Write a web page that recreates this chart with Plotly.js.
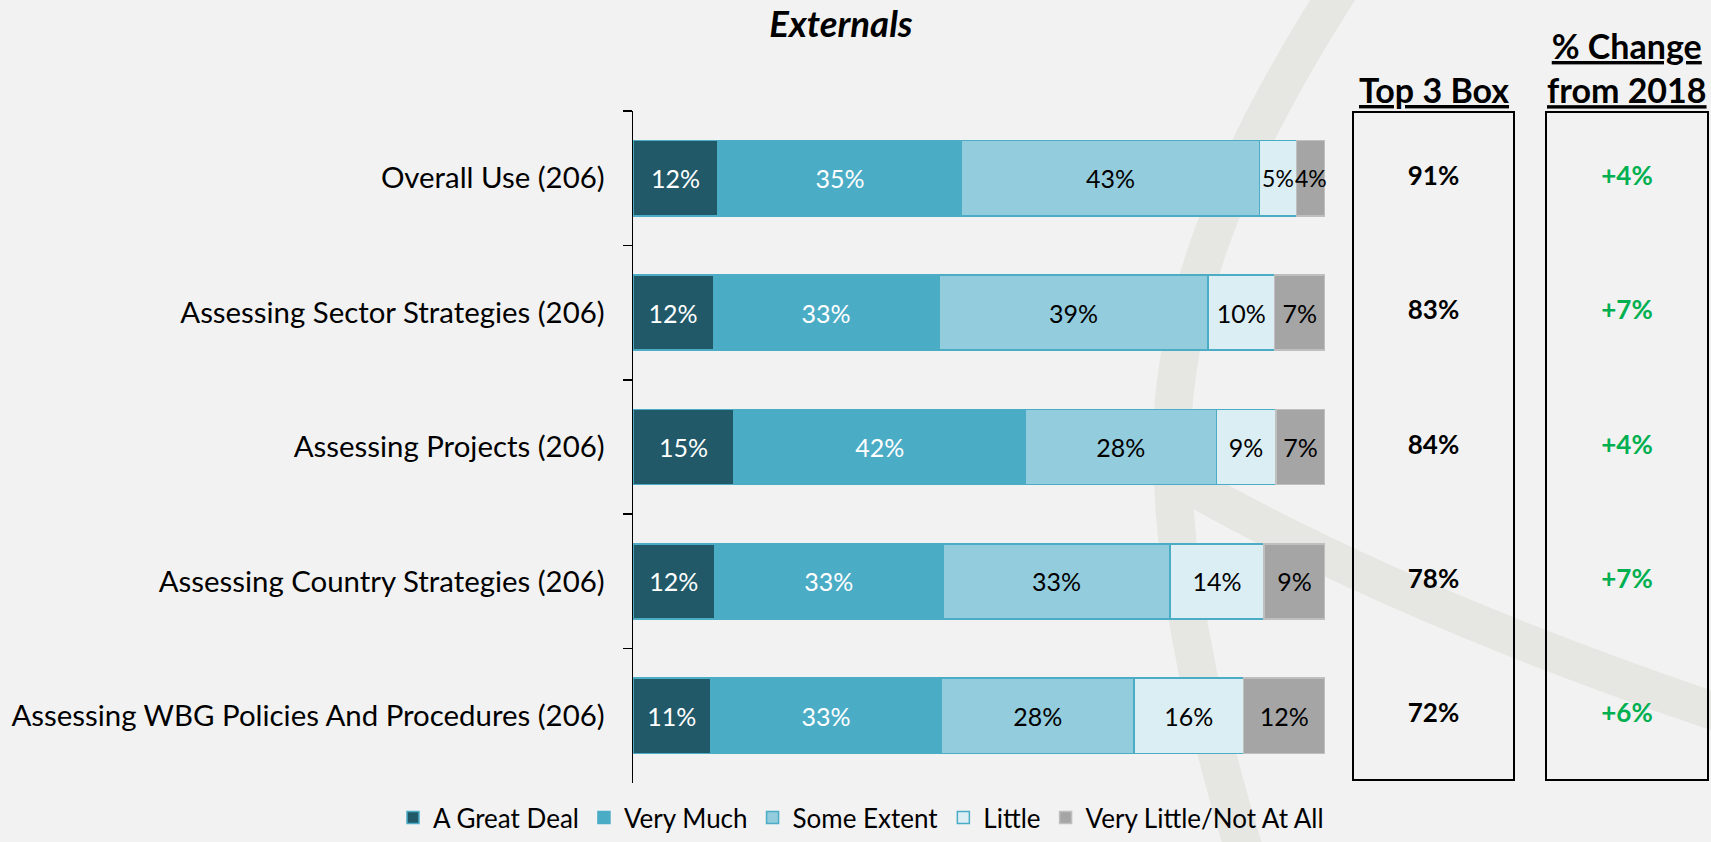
<!DOCTYPE html>
<html>
<head>
<meta charset="utf-8">
<script src="https://cdn.plot.ly/plotly-3.0.1.min.js"></script>
<style>
  html, body { margin: 0; padding: 0; background: #F2F2F2; overflow: hidden; }
  #chart { width: 1711px; height: 842px; }
</style>
</head>
<body>
<div id="chart"></div>
<script>
// ---- data ----
const categories = [
  'Overall Use (206)',
  'Assessing Sector Strategies (206)',
  'Assessing Projects (206)',
  'Assessing Country Strategies (206)',
  'Assessing WBG Policies And Procedures (206)'
];
const seriesNames = ['A Great Deal', 'Very Much', 'Some Extent', 'Little', 'Very Little/Not At All'];
const greatDeal  = [12.3, 11.6, 14.6, 11.8, 11.2];
const veryMuch   = [35.2, 32.6, 42.1, 33.0, 33.4];
const someExtent = [43.0, 38.9, 27.6, 32.8, 27.8];
const little     = [5.4, 9.6, 8.6, 13.6, 15.8];
const veryLittle = [4.1, 7.3, 7.1, 8.8, 11.8];
const top3Box    = [91, 83, 84, 78, 72];
const change2018 = [4, 7, 4, 7, 6];

// ---- styling ----
const W = 1711, H = 842;
const px = x => x / W;
const py = y => 1 - y / H;
const P = (x, y) => px(x).toFixed(5) + ',' + py(y).toFixed(5);
const FONT = 'Lato, "Open Sans", sans-serif';

const fills = ['#215968', '#4BACC6', '#93CDDD', '#DBEEF4', '#A5A5A5'];
const lines = ['#4BACC6', '#4BACC6', '#4BACC6', '#4BACC6', '#BFBFBF'];
const textCols = ['#FFFFFF', '#FFFFFF', '#000000', '#000000', '#000000'];
const seriesVals = [greatDeal, veryMuch, someExtent, little, veryLittle];

// labels in very narrow segments are set a touch smaller so neighbours don't collide
const labelSizes = seriesVals.map(vals => vals.map(v => v < 6 ? 23 : 25));

const traces = seriesVals.map((vals, i) => ({
  type: 'bar',
  orientation: 'h',
  name: seriesNames[i],
  x: vals,
  y: categories,
  marker: { color: fills[i], line: { color: lines[i], width: 1.5 } },
  texttemplate: '%{x:.0f}%',
  textposition: 'inside',
  insidetextanchor: 'middle',
  textangle: 0,
  constraintext: 'none',
  insidetextfont: { family: FONT, size: labelSizes[i], color: textCols[i] },
  cliponaxis: false,
  hoverinfo: 'skip'
}));

traces.push({
  type: 'scatter', mode: 'text',
  x: categories.map(() => 0.5), y: categories,
  xaxis: 'x2', yaxis: 'y',
  text: top3Box.map(v => '<b>' + v + '%</b>'),
  textfont: { family: FONT, size: 26, color: '#000000' },
  showlegend: false, hoverinfo: 'skip', cliponaxis: false
});
traces.push({
  type: 'scatter', mode: 'text',
  x: categories.map(() => 0.5), y: categories,
  xaxis: 'x3', yaxis: 'y',
  text: change2018.map(v => '<b>+' + v + '%</b>'),
  textfont: { family: FONT, size: 26, color: '#00B050' },
  showlegend: false, hoverinfo: 'skip', cliponaxis: false
});

const wm = '#E6E6E2';
const layout = {
  width: W, height: H,
  margin: { l: 0, r: 0, t: 0, b: 0, pad: 0 },
  paper_bgcolor: '#F2F2F2',
  plot_bgcolor: 'rgba(0,0,0,0)',
  barmode: 'stack',
  bargap: 0.44,
  font: { family: FONT, color: '#000000' },
  title: {
    text: '<b><i>Externals</i></b>',
    font: { family: FONT, size: 36.5, color: '#000000' },
    x: px(841), xanchor: 'center', xref: 'paper',
    y: py(24), yanchor: 'middle', yref: 'container'
  },
  xaxis: { domain: [px(633), px(1325)], range: [0, 100], visible: false, fixedrange: true },
  xaxis2: { domain: [px(1353), px(1514)], range: [0, 1], visible: false, anchor: 'y', fixedrange: true },
  xaxis3: { domain: [px(1546), px(1708)], range: [0, 1], visible: false, anchor: 'y', fixedrange: true },
  yaxis: {
    domain: [py(783), py(111)],
    type: 'category',
    autorange: 'reversed',
    showline: true, linecolor: '#000000', linewidth: 1.5,
    ticks: 'outside', ticklen: 9, tickwidth: 1.5, tickcolor: '#000000',
    tickson: 'boundaries',
    showgrid: false, zeroline: false,
    tickfont: { family: FONT, size: 29.4, color: '#000000' },
    ticklabelstandoff: 21,
    automargin: false, fixedrange: true
  },
  legend: {
    orientation: 'h',
    x: px(861), xanchor: 'center',
    y: py(817.5), yanchor: 'middle',
    font: { family: FONT, size: 26, color: '#000000' },
    bgcolor: 'rgba(0,0,0,0)',
    traceorder: 'normal'
  },
  shapes: [
    { type: 'path', xref: 'paper', yref: 'paper', layer: 'below',
      path: 'M ' + P(1352, -30) + ' C ' + P(1260, 110) + ' ' + P(1170, 280) + ' ' + P(1172, 450) +
            ' C ' + P(1174, 600) + ' ' + P(1210, 740) + ' ' + P(1250, 870),
      line: { color: wm, width: 38 } },
    { type: 'path', xref: 'paper', yref: 'paper', layer: 'below',
      path: 'M ' + P(1180, 480) + ' C ' + P(1320, 560) + ' ' + P(1500, 640) + ' ' + P(1740, 720),
      line: { color: wm, width: 38 } },
    { type: 'rect', xref: 'x2 domain', yref: 'paper', x0: 0, x1: 1, y0: py(780), y1: py(112),
      line: { color: '#000000', width: 2 }, fillcolor: 'rgba(0,0,0,0)' },
    { type: 'rect', xref: 'x3 domain', yref: 'paper', x0: 0, x1: 1, y0: py(780), y1: py(112),
      line: { color: '#000000', width: 2 }, fillcolor: 'rgba(0,0,0,0)' }
  ],
  annotations: [
    { xref: 'x2 domain', x: 0.5, yref: 'paper', y: py(89), yanchor: 'middle', xanchor: 'center',
      text: '<b><u>Top 3 Box</u></b>', showarrow: false,
      font: { family: FONT, size: 34, color: '#000000' } },
    { xref: 'x3 domain', x: 0.5, yref: 'paper', y: py(67), yanchor: 'middle', xanchor: 'center',
      text: '<b><u>% Change</u><br><u>from 2018</u></b>', showarrow: false,
      font: { family: FONT, size: 34, color: '#000000' } }
  ]
};

Plotly.newPlot('chart', traces, layout, { displayModeBar: false, staticPlot: true });
</script>
</body>
</html>
